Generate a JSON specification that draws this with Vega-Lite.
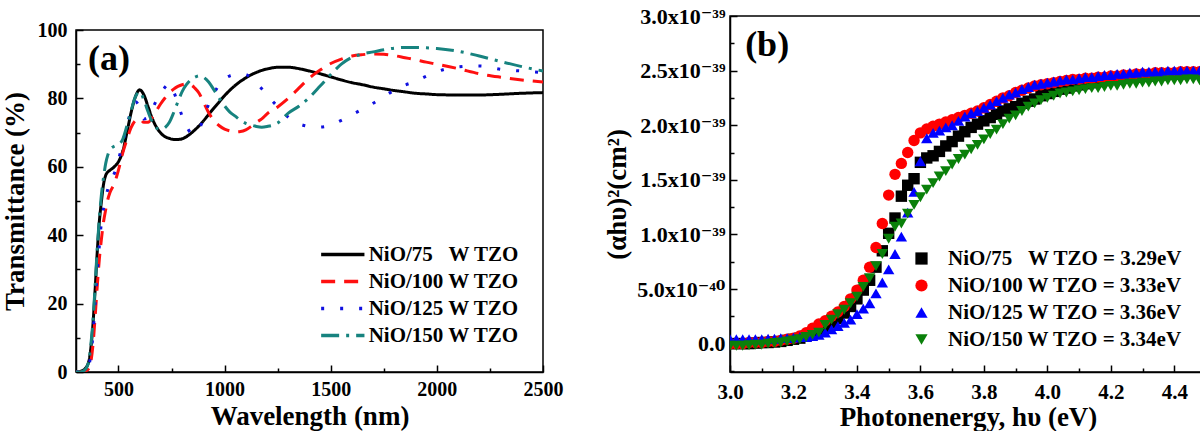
{
  "$schema": "https://vega.github.io/schema/vega-lite/v6.json",
  "padding": {"left": 0, "top": 4, "right": 0, "bottom": 0},
  "background": "white",
  "spacing": 38,
  "resolve": {
    "scale": {"color": "independent", "shape": "independent", "strokeDash": "independent"},
    "legend": {"color": "independent", "shape": "independent", "strokeDash": "independent"}
  },
  "config": {
    "font": "Liberation Serif",
    "view": {"stroke": "black", "strokeWidth": 1.5},
    "axis": {
      "labelFont": "Liberation Serif", "labelFontWeight": "bold", "labelFontSize": 20, "labelColor": "black",
      "titleFont": "Liberation Serif", "titleFontWeight": "bold", "titleFontSize": 27, "titleColor": "black",
      "domainColor": "black", "domainWidth": 1.5, "tickColor": "black", "tickWidth": 1.5,
      "grid": false, "labelFlush": false, "labelOverlap": false
    },
    "legend": {
      "labelFont": "Liberation Serif", "labelFontWeight": "bold", "labelFontSize": 21, "labelColor": "black",
      "padding": 0, "titlePadding": 0, "labelLimit": 400
    }
  },
  "datasets": {
    "trans": [
      {"wl": 300, "s75": 0, "s100": 0, "s125": 0, "s150": 0},
      {"wl": 320, "s75": 0.2, "s100": 0, "s125": 0, "s150": 0},
      {"wl": 340, "s75": 0.8, "s100": 0.2, "s125": 0.5, "s150": 0.5},
      {"wl": 360, "s75": 3, "s100": 1, "s125": 2, "s150": 3},
      {"wl": 370, "s75": 7, "s100": 3, "s125": 5, "s150": 8},
      {"wl": 380, "s75": 14, "s100": 8, "s125": 11, "s150": 15},
      {"wl": 390, "s75": 24, "s100": 16, "s125": 20, "s150": 25},
      {"wl": 400, "s75": 35, "s100": 25, "s125": 29, "s150": 36},
      {"wl": 410, "s75": 44, "s100": 33, "s125": 37, "s150": 45},
      {"wl": 420, "s75": 50, "s100": 39, "s125": 44, "s150": 52},
      {"wl": 430, "s75": 55, "s100": 44, "s125": 48, "s150": 57},
      {"wl": 440, "s75": 57.5, "s100": 47.5, "s125": 51, "s150": 61},
      {"wl": 450, "s75": 58.5, "s100": 50.5, "s125": 53.5, "s150": 63.5},
      {"wl": 460, "s75": 59, "s100": 52.5, "s125": 55.5, "s150": 65},
      {"wl": 480, "s75": 60, "s100": 55, "s125": 58, "s150": 66},
      {"wl": 500, "s75": 61.5, "s100": 59, "s125": 62, "s150": 66.5},
      {"wl": 520, "s75": 64.5, "s100": 64, "s125": 67, "s150": 68},
      {"wl": 540, "s75": 70, "s100": 68, "s125": 72, "s150": 72},
      {"wl": 560, "s75": 76, "s100": 71.5, "s125": 76.5, "s150": 76.5},
      {"wl": 580, "s75": 80.5, "s100": 73.5, "s125": 79, "s150": 80.5},
      {"wl": 600, "s75": 82.5, "s100": 74, "s125": 77.5, "s150": 82},
      {"wl": 620, "s75": 81, "s100": 73, "s125": 74, "s150": 79.5},
      {"wl": 640, "s75": 77.5, "s100": 73, "s125": 74.5, "s150": 76},
      {"wl": 660, "s75": 74, "s100": 74.5, "s125": 77, "s150": 73},
      {"wl": 680, "s75": 71.5, "s100": 76.5, "s125": 79.5, "s150": 71.3},
      {"wl": 700, "s75": 69.8, "s100": 78.5, "s125": 81.5, "s150": 71},
      {"wl": 720, "s75": 68.8, "s100": 80.2, "s125": 83.3, "s150": 71.5},
      {"wl": 740, "s75": 68.3, "s100": 81.6, "s125": 84.3, "s150": 73},
      {"wl": 760, "s75": 68, "s100": 82.7, "s125": 82, "s150": 75.8},
      {"wl": 780, "s75": 68, "s100": 83.5, "s125": 78.5, "s150": 79},
      {"wl": 800, "s75": 68.2, "s100": 84, "s125": 74.8, "s150": 82},
      {"wl": 820, "s75": 68.8, "s100": 84.2, "s125": 72, "s150": 84},
      {"wl": 840, "s75": 69.7, "s100": 84, "s125": 70, "s150": 85.4},
      {"wl": 860, "s75": 70.8, "s100": 83, "s125": 69.6, "s150": 86.2},
      {"wl": 880, "s75": 72, "s100": 81.5, "s125": 71, "s150": 86.6},
      {"wl": 900, "s75": 73.4, "s100": 79, "s125": 74, "s150": 86.2},
      {"wl": 925, "s75": 75.3, "s100": 75.8, "s125": 78.3, "s150": 84.8},
      {"wl": 950, "s75": 77.2, "s100": 73.5, "s125": 81.5, "s150": 82.5},
      {"wl": 975, "s75": 79, "s100": 72, "s125": 84, "s150": 80},
      {"wl": 1000, "s75": 80.8, "s100": 71, "s125": 85.7, "s150": 77.8},
      {"wl": 1025, "s75": 82.4, "s100": 70.5, "s125": 86.6, "s150": 76},
      {"wl": 1050, "s75": 83.8, "s100": 70.2, "s125": 87, "s150": 74.8},
      {"wl": 1075, "s75": 85, "s100": 70.3, "s125": 87.2, "s150": 73.6},
      {"wl": 1100, "s75": 86, "s100": 70.8, "s125": 87, "s150": 72.7},
      {"wl": 1125, "s75": 86.9, "s100": 71.8, "s125": 86, "s150": 72.2},
      {"wl": 1150, "s75": 87.6, "s100": 73, "s125": 84.5, "s150": 71.8},
      {"wl": 1175, "s75": 88.2, "s100": 74, "s125": 82.8, "s150": 71.6},
      {"wl": 1200, "s75": 88.6, "s100": 75.5, "s125": 81, "s150": 71.8},
      {"wl": 1250, "s75": 89.1, "s100": 77.5, "s125": 77.6, "s150": 72.8},
      {"wl": 1300, "s75": 89.1, "s100": 80, "s125": 74.5, "s150": 75.7},
      {"wl": 1350, "s75": 88.7, "s100": 83, "s125": 72.6, "s150": 77.7},
      {"wl": 1400, "s75": 88, "s100": 86, "s125": 71.8, "s150": 80.3},
      {"wl": 1450, "s75": 87.2, "s100": 88.3, "s125": 71.6, "s150": 83.6},
      {"wl": 1500, "s75": 86.3, "s100": 90.2, "s125": 72.2, "s150": 87},
      {"wl": 1550, "s75": 85.4, "s100": 91.5, "s125": 73.6, "s150": 90},
      {"wl": 1600, "s75": 84.6, "s100": 92.4, "s125": 75.2, "s150": 92},
      {"wl": 1650, "s75": 84, "s100": 92.8, "s125": 76.9, "s150": 93},
      {"wl": 1700, "s75": 83.3, "s100": 93, "s125": 78.6, "s150": 93.6},
      {"wl": 1750, "s75": 82.8, "s100": 92.9, "s125": 80.5, "s150": 94.2},
      {"wl": 1800, "s75": 82.3, "s100": 92.5, "s125": 82.4, "s150": 94.7},
      {"wl": 1850, "s75": 81.9, "s100": 91.9, "s125": 83.9, "s150": 94.9},
      {"wl": 1900, "s75": 81.5, "s100": 91.3, "s125": 85, "s150": 94.9},
      {"wl": 1950, "s75": 81.3, "s100": 90.6, "s125": 86.5, "s150": 94.8},
      {"wl": 2000, "s75": 81.1, "s100": 90, "s125": 87.8, "s150": 94.6},
      {"wl": 2100, "s75": 81, "s100": 88.7, "s125": 89.2, "s150": 93.8},
      {"wl": 2200, "s75": 81, "s100": 87.2, "s125": 89.5, "s150": 92.4},
      {"wl": 2300, "s75": 81.2, "s100": 86.2, "s125": 88.5, "s150": 90.8},
      {"wl": 2400, "s75": 81.5, "s100": 85.4, "s125": 88, "s150": 89.3},
      {"wl": 2500, "s75": 81.7, "s100": 84.8, "s125": 87.5, "s150": 88}
    ],
    "tauc": [
      {"e": 3.00, "p1": 0.00, "p2": 0.00, "p3": 0.04, "p4": -0.02},
      {"e": 3.02, "p1": 0.00, "p2": 0.00, "p3": 0.04, "p4": -0.02},
      {"e": 3.04, "p1": 0.00, "p2": 0.00, "p3": 0.04, "p4": -0.02},
      {"e": 3.06, "p1": 0.00, "p2": 0.01, "p3": 0.04, "p4": -0.015},
      {"e": 3.08, "p1": 0.005, "p2": 0.01, "p3": 0.04, "p4": -0.01},
      {"e": 3.10, "p1": 0.01, "p2": 0.01, "p3": 0.04, "p4": -0.01},
      {"e": 3.12, "p1": 0.01, "p2": 0.02, "p3": 0.045, "p4": 0.00},
      {"e": 3.14, "p1": 0.015, "p2": 0.02, "p3": 0.045, "p4": 0.005},
      {"e": 3.16, "p1": 0.02, "p2": 0.03, "p3": 0.05, "p4": 0.01},
      {"e": 3.18, "p1": 0.03, "p2": 0.04, "p3": 0.05, "p4": 0.02},
      {"e": 3.20, "p1": 0.04, "p2": 0.05, "p3": 0.055, "p4": 0.03},
      {"e": 3.22, "p1": 0.05, "p2": 0.07, "p3": 0.06, "p4": 0.04},
      {"e": 3.24, "p1": 0.07, "p2": 0.10, "p3": 0.06, "p4": 0.06},
      {"e": 3.26, "p1": 0.09, "p2": 0.14, "p3": 0.07, "p4": 0.08},
      {"e": 3.28, "p1": 0.12, "p2": 0.18, "p3": 0.08, "p4": 0.10},
      {"e": 3.30, "p1": 0.15, "p2": 0.21, "p3": 0.10, "p4": 0.17},
      {"e": 3.32, "p1": 0.19, "p2": 0.25, "p3": 0.13, "p4": 0.22},
      {"e": 3.34, "p1": 0.23, "p2": 0.29, "p3": 0.16, "p4": 0.27},
      {"e": 3.36, "p1": 0.28, "p2": 0.34, "p3": 0.19, "p4": 0.31},
      {"e": 3.38, "p1": 0.34, "p2": 0.41, "p3": 0.22, "p4": 0.37},
      {"e": 3.40, "p1": 0.41, "p2": 0.49, "p3": 0.27, "p4": 0.43},
      {"e": 3.42, "p1": 0.49, "p2": 0.58, "p3": 0.32, "p4": 0.52},
      {"e": 3.44, "p1": 0.58, "p2": 0.70, "p3": 0.37, "p4": 0.60},
      {"e": 3.46, "p1": 0.70, "p2": 0.88, "p3": 0.46, "p4": 0.71},
      {"e": 3.48, "p1": 0.85, "p2": 1.10, "p3": 0.56, "p4": 0.82},
      {"e": 3.50, "p1": 1.01, "p2": 1.36, "p3": 0.68, "p4": 0.96},
      {"e": 3.52, "p1": 1.15, "p2": 1.55, "p3": 0.82, "p4": 1.07},
      {"e": 3.54, "p1": 1.35, "p2": 1.65, "p3": 0.98, "p4": 1.10},
      {"e": 3.56, "p1": 1.45, "p2": 1.75, "p3": 1.20, "p4": 1.19},
      {"e": 3.58, "p1": 1.51, "p2": 1.86, "p3": 1.39, "p4": 1.27},
      {"e": 3.60, "p1": 1.66, "p2": 1.93, "p3": 1.67, "p4": 1.34},
      {"e": 3.62, "p1": 1.70, "p2": 1.965, "p3": 1.88, "p4": 1.41},
      {"e": 3.64, "p1": 1.72, "p2": 1.99, "p3": 1.93, "p4": 1.47},
      {"e": 3.66, "p1": 1.76, "p2": 2.01, "p3": 1.95, "p4": 1.53},
      {"e": 3.68, "p1": 1.81, "p2": 2.03, "p3": 1.98, "p4": 1.58},
      {"e": 3.70, "p1": 1.85, "p2": 2.05, "p3": 2.00, "p4": 1.64},
      {"e": 3.72, "p1": 1.90, "p2": 2.07, "p3": 2.04, "p4": 1.69},
      {"e": 3.74, "p1": 1.94, "p2": 2.09, "p3": 2.08, "p4": 1.73},
      {"e": 3.76, "p1": 1.98, "p2": 2.11, "p3": 2.11, "p4": 1.78},
      {"e": 3.78, "p1": 2.01, "p2": 2.13, "p3": 2.13, "p4": 1.82},
      {"e": 3.80, "p1": 2.04, "p2": 2.16, "p3": 2.16, "p4": 1.87},
      {"e": 3.82, "p1": 2.07, "p2": 2.19, "p3": 2.19, "p4": 1.92},
      {"e": 3.84, "p1": 2.10, "p2": 2.22, "p3": 2.22, "p4": 1.96},
      {"e": 3.86, "p1": 2.13, "p2": 2.25, "p3": 2.25, "p4": 2.01},
      {"e": 3.88, "p1": 2.15, "p2": 2.27, "p3": 2.28, "p4": 2.06},
      {"e": 3.90, "p1": 2.17, "p2": 2.30, "p3": 2.30, "p4": 2.09},
      {"e": 3.92, "p1": 2.20, "p2": 2.32, "p3": 2.33, "p4": 2.13},
      {"e": 3.94, "p1": 2.22, "p2": 2.34, "p3": 2.35, "p4": 2.17},
      {"e": 3.96, "p1": 2.24, "p2": 2.36, "p3": 2.37, "p4": 2.20},
      {"e": 3.98, "p1": 2.27, "p2": 2.37, "p3": 2.38, "p4": 2.23},
      {"e": 4.00, "p1": 2.29, "p2": 2.38, "p3": 2.39, "p4": 2.25},
      {"e": 4.02, "p1": 2.31, "p2": 2.39, "p3": 2.40, "p4": 2.27},
      {"e": 4.04, "p1": 2.33, "p2": 2.40, "p3": 2.41, "p4": 2.29},
      {"e": 4.06, "p1": 2.34, "p2": 2.41, "p3": 2.42, "p4": 2.30},
      {"e": 4.08, "p1": 2.36, "p2": 2.42, "p3": 2.42, "p4": 2.31},
      {"e": 4.10, "p1": 2.37, "p2": 2.42, "p3": 2.43, "p4": 2.32},
      {"e": 4.12, "p1": 2.38, "p2": 2.43, "p3": 2.44, "p4": 2.33},
      {"e": 4.14, "p1": 2.39, "p2": 2.43, "p3": 2.44, "p4": 2.34},
      {"e": 4.16, "p1": 2.40, "p2": 2.44, "p3": 2.45, "p4": 2.34},
      {"e": 4.18, "p1": 2.41, "p2": 2.44, "p3": 2.46, "p4": 2.35},
      {"e": 4.20, "p1": 2.42, "p2": 2.45, "p3": 2.46, "p4": 2.36},
      {"e": 4.22, "p1": 2.42, "p2": 2.45, "p3": 2.47, "p4": 2.36},
      {"e": 4.24, "p1": 2.43, "p2": 2.46, "p3": 2.47, "p4": 2.37},
      {"e": 4.26, "p1": 2.44, "p2": 2.46, "p3": 2.48, "p4": 2.38},
      {"e": 4.28, "p1": 2.44, "p2": 2.47, "p3": 2.48, "p4": 2.38},
      {"e": 4.30, "p1": 2.45, "p2": 2.47, "p3": 2.49, "p4": 2.39},
      {"e": 4.32, "p1": 2.45, "p2": 2.47, "p3": 2.49, "p4": 2.39},
      {"e": 4.34, "p1": 2.46, "p2": 2.48, "p3": 2.49, "p4": 2.40},
      {"e": 4.36, "p1": 2.46, "p2": 2.48, "p3": 2.49, "p4": 2.40},
      {"e": 4.38, "p1": 2.47, "p2": 2.48, "p3": 2.50, "p4": 2.41},
      {"e": 4.40, "p1": 2.47, "p2": 2.48, "p3": 2.50, "p4": 2.41},
      {"e": 4.42, "p1": 2.47, "p2": 2.49, "p3": 2.50, "p4": 2.41},
      {"e": 4.44, "p1": 2.48, "p2": 2.49, "p3": 2.50, "p4": 2.42},
      {"e": 4.46, "p1": 2.48, "p2": 2.49, "p3": 2.50, "p4": 2.42},
      {"e": 4.48, "p1": 2.48, "p2": 2.49, "p3": 2.50, "p4": 2.41},
      {"e": 4.50, "p1": 2.48, "p2": 2.49, "p3": 2.50, "p4": 2.41}
    ],
    "labelA": [{"wl": 455, "T": 91.5, "t": "(a)"}],
    "labelB": [{"e": 3.117, "v": 2.73, "t": "(b)"}]
  },
  "hconcat": [
    {
      "spacing": 0,
      "vconcat": [
        {
          "width": 467, "height": 3,
          "view": {"stroke": null},
          "data": {"values": [{}]},
          "mark": {"type": "rule", "opacity": 0},
          "encoding": {}
        },
        {
          "width": 467, "height": 342,
          "layer": [
            {
              "data": {"name": "trans"},
              "transform": [{"fold": ["s75", "s100", "s125", "s150"], "as": ["series", "T"]}],
              "mark": {"type": "line", "strokeWidth": 3, "interpolate": "monotone", "clip": true},
              "encoding": {
                "x": {"field": "wl", "type": "quantitative", "scale": {"domain": [300, 2500], "nice": false, "zero": false},
                  "axis": {"title": "Wavelength (nm)", "values": [500, 1000, 1500, 2000, 2500], "format": "d", "tickSize": -7, "labelPadding": 14, "titlePadding": 4}},
                "y": {"field": "T", "type": "quantitative", "scale": {"domain": [0, 100], "nice": false},
                  "axis": {"title": "Transmittance (%)", "values": [0, 20, 40, 60, 80, 100], "tickSize": -7, "labelPadding": 16, "titlePadding": 8}},
                "color": {"field": "series", "type": "nominal",
                  "scale": {"domain": ["s75", "s100", "s125", "s150"], "range": ["#000000", "#ff1010", "#1010e0", "#17837f"]},
                  "legend": {"title": null, "orient": "none", "legendX": 256.3, "legendY": 228, "symbolType": "M-2.5,0H2.5", "symbolSize": 300, "symbolStrokeWidth": 3.5, "labelOffset": 15.4, "rowPadding": 5,
                    "labelExpr": "datum.label == 's75' ? 'NiO/75\u00a0\u00a0\u00a0W TZO' : datum.label == 's100' ? 'NiO/100 W TZO' : datum.label == 's125' ? 'NiO/125 W TZO' : 'NiO/150 W TZO'"}},
                "strokeDash": {"field": "series", "type": "nominal",
                  "scale": {"domain": ["s75", "s100", "s125", "s150"], "range": [[1, 0], [14, 9], [3, 16], [18, 7, 3, 7]]},
                  "legend": {"title": null, "orient": "none", "legendX": 256.3, "legendY": 228, "symbolType": "M-2.5,0H2.5", "symbolSize": 300, "symbolStrokeWidth": 3.5, "labelOffset": 15.4, "rowPadding": 5,
                    "labelExpr": "datum.label == 's75' ? 'NiO/75\u00a0\u00a0\u00a0W TZO' : datum.label == 's100' ? 'NiO/100 W TZO' : datum.label == 's125' ? 'NiO/125 W TZO' : 'NiO/150 W TZO'"}}
              }
            },
            {
              "data": {"name": "labelA"},
              "mark": {"type": "text", "font": "Liberation Serif", "fontWeight": "bold", "fontSize": 36, "color": "black"},
              "encoding": {
                "x": {"field": "wl", "type": "quantitative", "scale": {"domain": [300, 2500], "nice": false, "zero": false},
                  "axis": {"orient": "bottom", "title": null, "values": [750, 1250, 1750, 2250], "labels": false, "domain": false, "tickSize": -4}},
                "y": {"field": "T", "type": "quantitative", "scale": {"domain": [0, 100], "nice": false},
                  "axis": {"orient": "left", "title": null, "values": [10, 30, 50, 70, 90], "labels": false, "domain": false, "tickSize": -4}},
                "text": {"field": "t"}
              }
            }
          ],
          "resolve": {"axis": {"x": "independent", "y": "independent"}}
        }
      ]
    },
    {
      "width": 476, "height": 356,
      "layer": [
        {
          "data": {"name": "tauc"},
          "transform": [{"fold": ["p1", "p2", "p3", "p4"], "as": ["series", "v"]}],
          "mark": {"type": "point", "filled": true, "opacity": 1, "size": 130, "clip": true},
          "encoding": {
            "x": {"field": "e", "type": "quantitative", "scale": {"domain": [3.0, 4.5], "nice": false, "zero": false},
              "axis": {"title": "Photonenergy, hυ (eV)", "values": [3.0, 3.2, 3.4, 3.6, 3.8, 4.0, 4.2, 4.4], "format": ".1f", "labelFontSize": 21, "tickSize": -7, "labelPadding": 16, "titlePadding": 2}},
            "y": {"field": "v", "type": "quantitative", "scale": {"domain": [-0.26, 3.0], "nice": false, "zero": false},
              "axis": {"title": "(αhυ)²(cm²)", "values": [0, 0.5, 1.0, 1.5, 2.0, 2.5, 3.0], "labelFontSize": 22, "labelFont": "Liberation Serif, DejaVu Serif", "tickSize": -7, "labelPadding": 12, "titlePadding": 5,
                "labelExpr": "datum.value == 0 ? '0.0' : (datum.value < 0.9 ? format(datum.value * 10, '.1f') + 'x10⁻⁴⁰' : format(datum.value, '.1f') + 'x10⁻³⁹')"}},
            "color": {"field": "series", "type": "nominal",
              "scale": {"domain": ["p1", "p2", "p3", "p4"], "range": ["#000000", "#ff0000", "#0000ff", "#0a800a"]},
              "legend": {"title": null, "orient": "none", "legendX": 181, "legendY": 232, "symbolSize": 150, "labelOffset": 16, "rowPadding": 5,
                "labelExpr": "datum.label == 'p1' ? 'NiO/75\u00a0\u00a0\u00a0W TZO = 3.29eV' : datum.label == 'p2' ? 'NiO/100 W TZO = 3.33eV' : datum.label == 'p3' ? 'NiO/125 W TZO = 3.36eV' : 'NiO/150 W TZO = 3.34eV'"}},
            "shape": {"field": "series", "type": "nominal",
              "scale": {"domain": ["p1", "p2", "p3", "p4"], "range": ["square", "circle", "triangle-up", "triangle-down"]},
              "legend": {"title": null, "orient": "none", "legendX": 181, "legendY": 232, "symbolSize": 150, "labelOffset": 16, "rowPadding": 5,
                "labelExpr": "datum.label == 'p1' ? 'NiO/75\u00a0\u00a0\u00a0W TZO = 3.29eV' : datum.label == 'p2' ? 'NiO/100 W TZO = 3.33eV' : datum.label == 'p3' ? 'NiO/125 W TZO = 3.36eV' : 'NiO/150 W TZO = 3.34eV'"}},
            "order": {"field": "series", "type": "nominal"}
          }
        },
        {
          "data": {"name": "labelB"},
          "mark": {"type": "text", "font": "Liberation Serif", "fontWeight": "bold", "fontSize": 36, "color": "black"},
          "encoding": {
            "x": {"field": "e", "type": "quantitative", "scale": {"domain": [3.0, 4.5], "nice": false, "zero": false},
              "axis": {"orient": "bottom", "title": null, "values": [3.1, 3.3, 3.5, 3.7, 3.9, 4.1, 4.3], "labels": false, "domain": false, "tickSize": -4}},
            "y": {"field": "v", "type": "quantitative", "scale": {"domain": [-0.26, 3.0], "nice": false, "zero": false},
              "axis": {"orient": "left", "title": null, "values": [-0.25, 0.25, 0.75, 1.25, 1.75, 2.25, 2.75], "labels": false, "domain": false, "tickSize": -4}},
            "text": {"field": "t"}
          }
        }
      ],
      "resolve": {"axis": {"x": "independent", "y": "independent"}}
    }
  ]
}
